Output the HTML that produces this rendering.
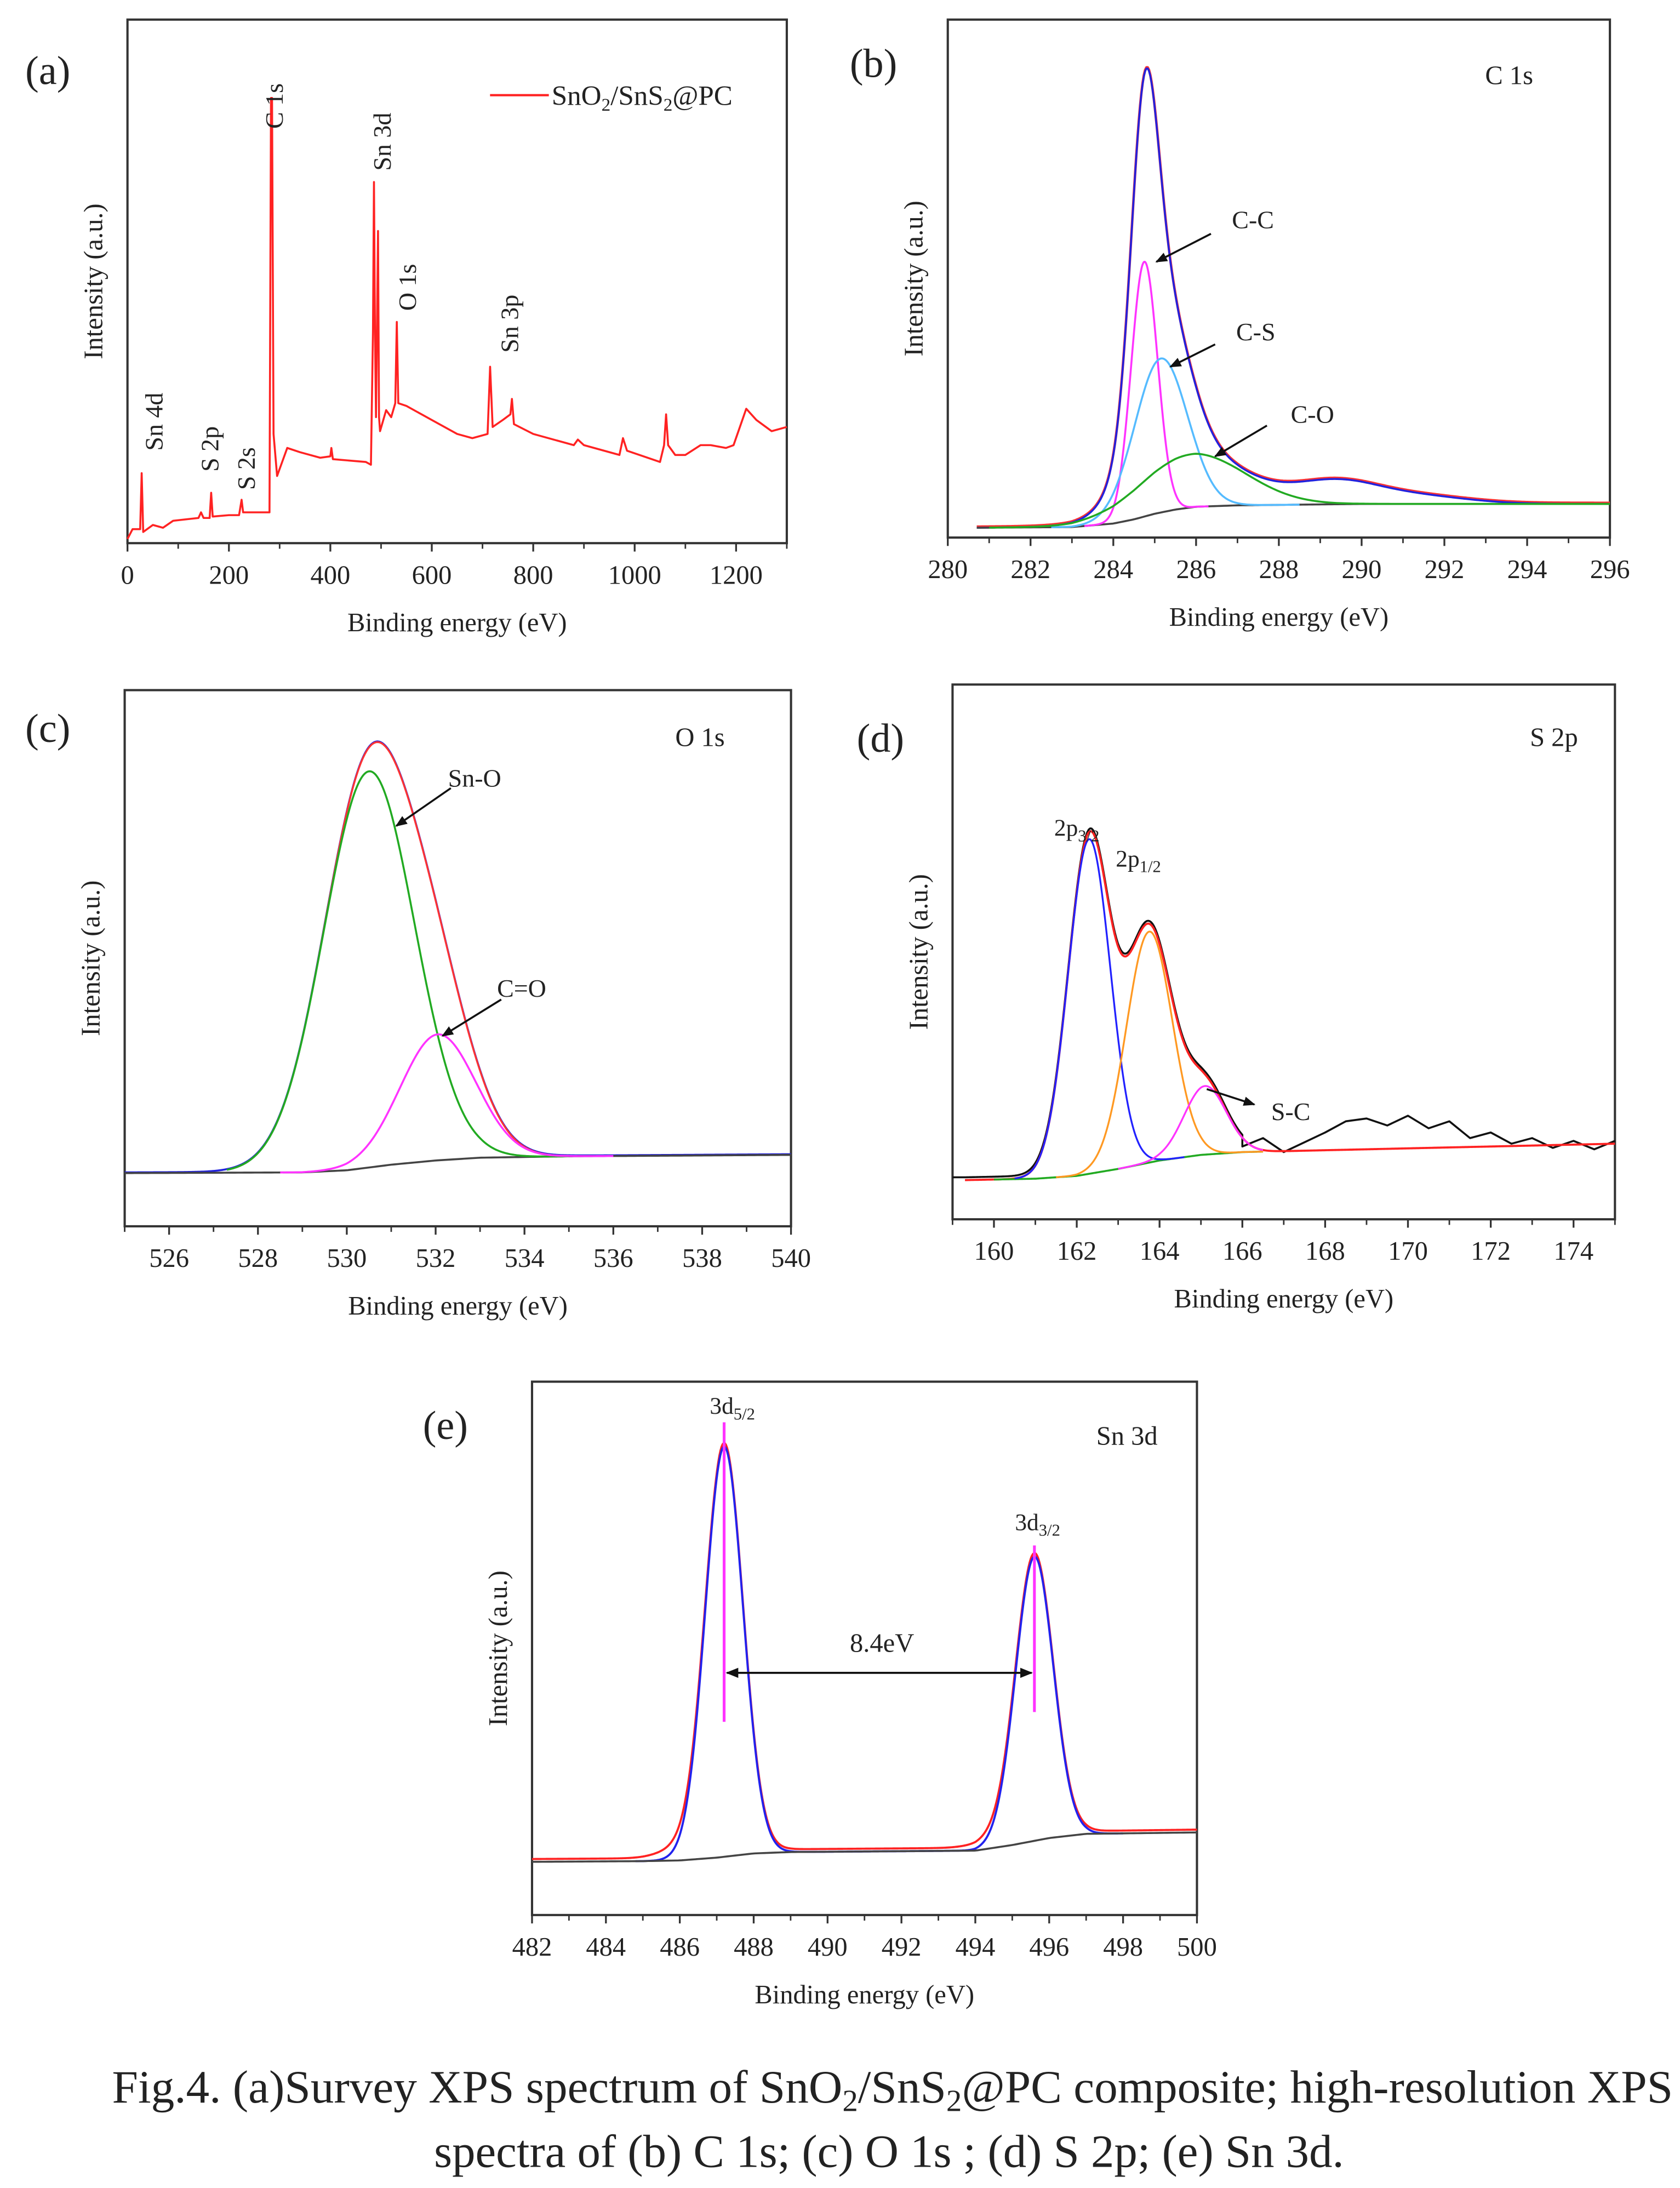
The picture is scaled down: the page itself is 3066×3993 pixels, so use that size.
<!DOCTYPE html>
<html><head><meta charset="utf-8"><style>
html,body{margin:0;padding:0;background:#fff}
svg{display:block}
text{font-family:"Liberation Serif",serif;fill:#222}
</style></head><body>
<svg id="fig" width="3066" height="3993" viewBox="0 0 1200 1563" xmlns="http://www.w3.org/2000/svg">
<defs>
<marker id="ah" viewBox="0 0 10 10" refX="9" refY="5" markerWidth="6" markerHeight="6" orient="auto-start-reverse"><path d="M0,1 L10,5 L0,9 z" fill="#111"/></marker>
</defs>
<text x="80" y="1502" font-size="33" textLength="1115" lengthAdjust="spacingAndGlyphs">Fig.4. (a)Survey XPS spectrum of SnO<tspan font-size="22" dy="6">2</tspan><tspan dy="-6">/SnS</tspan><tspan font-size="22" dy="6">2</tspan><tspan dy="-6">@PC composite; high-resolution XPS</tspan></text>
<text x="310" y="1548" font-size="33" textLength="650" lengthAdjust="spacingAndGlyphs">spectra of (b) C 1s; (c) O 1s ; (d) S 2p; (e) Sn 3d.</text>
</svg>
<script>
// ---------- DATA ----------
// (a) survey spectrum: binding energy (eV) and intensity (a.u.)
const surveyEV=[0,10,25,28,31,50,70,90,140,145,150,162,165,168,200,220,225,228,280,283,285,288,295,305,315,340,380,400,402,405,470,480,484,486,488,490,493,494,496,498,510,520,528,531,534,550,600,650,680,710,715,720,740,755,758,762,800,880,888,900,970,977,985,1050,1058,1062,1066,1080,1100,1130,1150,1180,1195,1220,1240,1270,1300];
const surveyI=[3,10,10,50,8,13,11,16,18,22,18,18,36,19,20,20,31,22,22,318,318,78,48,58,68,65,61,62,68,60,58,56,150,258,150,90,190,223,90,80,95,90,100,158,100,98,88,78,75,78,126,83,88,92,103,85,78,70,74,70,63,75,66,58,70,92,70,63,63,70,70,68,70,96,88,80,83];
const surveyTicks=[0,200,400,600,800,1000,1200];
// (b) C 1s components: center, amplitude, fwhm
const c1sNames=['C-C','C-S','C-O','main2','sat1','sat2'];
const c1sCenter=[284.75,285.15,285.9,284.95,289.3,291.2];
const c1sAmp=[182,110,38,20,15,6];
const c1sFwhm=[0.75,1.5,3.0,1.2,2.4,3.0];
const c1sBgEV=[280.7,283,284,284.5,285,285.5,286,287,290,296];
const c1sBgI=[7,7.5,10,13,17,20,22,23,24,24];
const c1sTicks=[280,282,284,286,288,290,292,294,296];
// (c) O 1s
const o1sCenter=[530.5,532.05];
const o1sAmp=[283,90];
const o1sFwhm=[2.4,2.0];
const o1sBgEV=[525,529,530,531,532,533,535,540];
const o1sBgI=[38,38.5,40,44,47,49,50,51];
const o1sTicks=[526,528,530,532,534,536,538,540];
// (d) S 2p
const s2pCenter=[162.3,163.75,165.1];
const s2pAmp=[239,165,49];
const s2pFwhm=[1.2,1.3,1.2];
const s2pBgEV=[159.3,161,162,163,164,165,166,175];
const s2pBgI=[28,29,31,36,42,46,48,54];
const s2pTailEV=[166,166.5,167,167.5,168,168.5,169,169.5,170,170.5,171,171.5,172,172.5,173,173.5,174,174.5,175];
const s2pTailI=[52,58,48,55,62,70,72,67,74,65,70,58,62,54,58,51,56,50,56];
const s2pTicks=[160,162,164,166,168,170,172,174];
// (e) Sn 3d
const sn3dCenter=[487.2,495.6];
const sn3dAmp=[293,203];
const sn3dFwhm=[1.2,1.2];
const sn3dBgEV=[482,485,486,487,488,489,494,495,496,497,500];
const sn3dBgI=[38,38.5,39,41,44,45,46,50,55,58,59];
const sn3dTicks=[482,484,486,488,490,492,494,496,498,500];

// ---------- HELPERS ----------
const NS='http://www.w3.org/2000/svg';
const svg=document.getElementById('fig');
function mk(tag,attrs,parent){const e=document.createElementNS(NS,tag);for(const k in attrs)e.setAttribute(k,attrs[k]);(parent||svg).appendChild(e);return e;}
function interp(xs,ys,x){if(x<=xs[0])return ys[0];for(let i=1;i<xs.length;i++){if(x<=xs[i]){const t=(x-xs[i-1])/(xs[i]-xs[i-1]);return ys[i-1]+t*(ys[i]-ys[i-1]);}}return ys[ys.length-1];}
function gauss(c,a,w,x){return a*Math.exp(-4*Math.LN2*((x-c)/w)**2);}
function sx(p,v){return p.x0+(v-p.xmin)/(p.xmax-p.xmin)*(p.x1-p.x0);}
function sy(p,v){return p.y1-v/(p.ymax)*(p.y1-p.y0);}
function pathFrom(p,xs,ys){let d='';for(let i=0;i<xs.length;i++){d+=(i?'L':'M')+sx(p,xs[i]).toFixed(2)+','+sy(p,ys[i]).toFixed(2);}return d;}
function sample(a,b,n,f){const xs=[],ys=[];for(let i=0;i<=n;i++){const x=a+(b-a)*i/n;xs.push(x);ys.push(f(x));}return [xs,ys];}
function drawCurve(p,xs,ys,color,name,w){const e=mk('path',{d:pathFrom(p,xs,ys),fill:'none',stroke:color,'stroke-width':w||1.4,'stroke-linejoin':'round'},p.g);


return e;}
function txt(p,x,y,s,size,extra){const t=mk('text',Object.assign({x:x,y:y,'font-size':size},extra||{}),p?p.g:svg);t.textContent=s;return t;}

function panel(p){
  p.g=mk('g',{});
  
  
  const f=mk('rect',{x:p.x0,y:p.y0,width:p.x1-p.x0,height:p.y1-p.y0,fill:'none',stroke:'#333','stroke-width':1.6},p.g);
  
  
  const step=p.ticks[1]-p.ticks[0];
  for(let i=0;i<p.ticks.length;i++){
    const v=p.ticks[i],x=sx(p,v);
    const tk=mk('line',{x1:x,x2:x,y1:p.y1,y2:p.y1+6,stroke:'#333','stroke-width':1.3},p.g);
    
    
    const lb=txt(p,x,p.y1+29,String(v),19,{'text-anchor':'middle'});
    
    
    const mv=v+step/2;
    if(mv<=p.xmax){const mx=sx(p,mv);const mt=mk('line',{x1:mx,x2:mx,y1:p.y1,y2:p.y1+4,stroke:'#333','stroke-width':1.1},p.g);
    
    }
    if(i===0){const mv2=v-step/2;if(mv2>=p.xmin){const mx=sx(p,mv2);mk('line',{x1:mx,x2:mx,y1:p.y1,y2:p.y1+4,stroke:'#333','stroke-width':1.1},p.g);}}
  }
  const xt=txt(p,(p.x0+p.x1)/2,p.y1+63,'Binding energy (eV)',19,{'text-anchor':'middle'});
  
  
  const yc=(p.y0+p.y1)/2, yx=p.x0-18;
  const yt=txt(p,yx,yc,'Intensity (a.u.)',19,{'text-anchor':'middle',transform:`rotate(-90 ${yx} ${yc})`});
  
  
  const pl=txt(p,p.lx,p.ly,p.letter,29,{});
  
  
  if(p.title){const tt=txt(p,p.tx,p.ty,p.title,19,{'text-anchor':'middle'});
  
  }
}
function arrow(p,x1,y1,x2,y2,name){const a=mk('line',{x1:x1,y1:y1,x2:x2,y2:y2,stroke:'#111','stroke-width':1.4,'marker-end':'url(#ah)'},p.g);

}

// ---------- PANEL A ----------
const pa={name:'panel-a-survey',x0:91,x1:562,y0:14,y1:388,xmin:0,xmax:1300,ymax:374,ticks:surveyTicks,letter:'(a)',lx:18,ly:60};
panel(pa);
drawCurve(pa,surveyEV,surveyI,'#f22','survey-spectrum-line',1.4);
const lg=mk('line',{x1:350,x2:392,y1:68,y2:68,stroke:'#f22','stroke-width':1.6},pa.g);


const lt=mk('text',{x:394,y:75,'font-size':20},pa.g);


lt.innerHTML='SnO<tspan font-size="13" dy="4">2</tspan><tspan dy="-4">/SnS</tspan><tspan font-size="13" dy="4">2</tspan><tspan dy="-4">@PC</tspan>';
const peakLabels=[['Sn 4d',116,322],['S 2p',156,337],['S 2s',182,350],['C 1s',202,92],['Sn 3d',279,122],['O 1s',297,222],['Sn 3p',370,252]];
peakLabels.forEach(l=>{const t=txt(pa,l[1],l[2],l[0],18,{transform:`rotate(-90 ${l[1]} ${l[2]})`});

});

// ---------- PANEL B ----------
const pb={name:'panel-b-c1s',x0:677,x1:1150,y0:14,y1:384,xmin:280,xmax:296,ymax:370,ticks:c1sTicks,letter:'(b)',lx:607,ly:55,title:'C 1s',tx:1078,ty:60};
panel(pb);
const bBg=x=>interp(c1sBgEV,c1sBgI,x);
const bEnv=x=>{let s=bBg(x);for(let i=0;i<c1sCenter.length;i++)s+=gauss(c1sCenter[i],c1sAmp[i],c1sFwhm[i],x);return s;};
let r=sample(280.7,296,500,x=>bEnv(x)+0.8);drawCurve(pb,r[0],r[1],'#f33','c1s-raw-data',1.8);
r=sample(280.7,296,500,bEnv);drawCurve(pb,r[0],r[1],'#22d','c1s-envelope',1.4);
r=sample(280.7,296,200,bBg);drawCurve(pb,r[0],r[1],'#444','c1s-background',1.4);
const bCol=['#f3f','#5bf','#2a2'];
const bRange=[[283.3,286.3],[282.5,288.5],[281,296]];
for(let i=0;i<3;i++){r=sample(bRange[i][0],bRange[i][1],300,x=>bBg(x)+gauss(c1sCenter[i],c1sAmp[i],c1sFwhm[i],x));drawCurve(pb,r[0],r[1],bCol[i],'c1s-component-'+c1sNames[i].toLowerCase(),1.4);}
[['C-C',880,163,865,167,826,187],['C-S',883,243,868,246,836,262],['C-O',922,302,905,304,868,326]].forEach(a=>{const t=txt(pb,a[1],a[2],a[0],18,{});


arrow(pb,a[3],a[4],a[5],a[6],'component-arrow');});

// ---------- PANEL C ----------
const pc={name:'panel-c-o1s',x0:89,x1:565,y0:493,y1:876,xmin:525,xmax:540,ymax:383,ticks:o1sTicks,letter:'(c)',lx:18,ly:530,title:'O 1s',tx:500,ty:533};
panel(pc);
const cBg=x=>interp(o1sBgEV,o1sBgI,x);
const cEnv=x=>{let s=cBg(x);for(let i=0;i<o1sCenter.length;i++)s+=gauss(o1sCenter[i],o1sAmp[i],o1sFwhm[i],x);return s;};
r=sample(525,540,500,x=>cEnv(x)+0.5);drawCurve(pc,r[0],r[1],'#22d','o1s-raw-data',1.4);
r=sample(527.5,535.5,300,cEnv);drawCurve(pc,r[0],r[1],'#f33','o1s-fit-envelope',1.3);
r=sample(525,540,200,cBg);drawCurve(pc,r[0],r[1],'#444','o1s-background',1.4);
r=sample(527.3,535,300,x=>cBg(x)+gauss(o1sCenter[0],o1sAmp[0],o1sFwhm[0],x));drawCurve(pc,r[0],r[1],'#2a2','o1s-component-sn-o',1.4);
r=sample(528.5,536,300,x=>cBg(x)+gauss(o1sCenter[1],o1sAmp[1],o1sFwhm[1],x));drawCurve(pc,r[0],r[1],'#f3f','o1s-component-c-o',1.4);
[['Sn-O',320,562,322,563,283,590],['C=O',355,712,358,714,316,740]].forEach(a=>{const t=txt(pc,a[1],a[2],a[0],18,{});


arrow(pc,a[3],a[4],a[5],a[6],'component-arrow');});

// ---------- PANEL D ----------
const pd={name:'panel-d-s2p',x0:680.4,x1:1153.6,y0:489,y1:871,xmin:159,xmax:175,ymax:382,ticks:s2pTicks,letter:'(d)',lx:612,ly:537,title:'S 2p',tx:1110,ty:533};
panel(pd);
const dBg=x=>interp(s2pBgEV,s2pBgI,x);
const dEnv=x=>{let s=dBg(x);for(let i=0;i<s2pCenter.length;i++)s+=gauss(s2pCenter[i],s2pAmp[i],s2pFwhm[i],x);return s;};
r=sample(159,166,200,x=>dEnv(x)+2);
const dX=r[0].concat(s2pTailEV), dY=r[1].concat(s2pTailI);
drawCurve(pd,dX,dY,'#111','s2p-raw-data',1.4);
r=sample(159.3,175,400,dEnv);drawCurve(pd,r[0],r[1],'#f22','s2p-fit-envelope',1.5);
r=sample(160,166.5,200,dBg);drawCurve(pd,r[0],r[1],'#2a2','s2p-background',1.4);
const dCol=['#22f','#f92','#f3f'],dName=['2p3-2','2p1-2','s-c'];
const dRange=[[160.5,164.6],[161.5,166.5],[163,166.5]];
for(let i=0;i<3;i++){r=sample(dRange[i][0],dRange[i][1],300,x=>dBg(x)+gauss(s2pCenter[i],s2pAmp[i],s2pFwhm[i],x));drawCurve(pd,r[0],r[1],dCol[i],'s2p-component-'+dName[i],1.3);}
let t1=mk('text',{x:753,y:597,'font-size':17},pd.g);t1.innerHTML='2p<tspan font-size="12" dy="4">3/2</tspan>';


let t2=mk('text',{x:797,y:619,'font-size':17},pd.g);t2.innerHTML='2p<tspan font-size="12" dy="4">1/2</tspan>';


const tsc=txt(pd,908,800,'S-C',18,{});


arrow(pd,862,778,896,789,'component-arrow');

// ---------- PANEL E ----------
const pe={name:'panel-e-sn3d',x0:380,x1:855,y0:987,y1:1368,xmin:482,xmax:500,ymax:381,ticks:sn3dTicks,letter:'(e)',lx:302,ly:1028,title:'Sn 3d',tx:805,ty:1032};
panel(pe);
const eBg=x=>interp(sn3dBgEV,sn3dBgI,x);
const eEnv=x=>{let s=eBg(x);for(let i=0;i<sn3dCenter.length;i++)s+=gauss(sn3dCenter[i],sn3dAmp[i],sn3dFwhm[i],x);return s;};
r=sample(482,500,600,x=>eEnv(x)+2+6*Math.exp(-(((x-486)/0.8)**2))+4*Math.exp(-(((x-494.5)/0.8)**2)));
drawCurve(pe,r[0],r[1],'#f22','sn3d-raw-data',1.5);
r=sample(484.8,498,500,eEnv);drawCurve(pe,r[0],r[1],'#22e','sn3d-fit-envelope',1.5);
r=sample(482,500,200,eBg);drawCurve(pe,r[0],r[1],'#444','sn3d-background',1.4);
const v1=sx(pe,sn3dCenter[0]),v2=sx(pe,sn3dCenter[1]);
let m1=mk('line',{x1:v1,x2:v1,y1:1016,y2:1230,stroke:'#f3f','stroke-width':2},pe.g);


let m2=mk('line',{x1:v2,x2:v2,y1:1104,y2:1223,stroke:'#f3f','stroke-width':2},pe.g);


const da=mk('line',{x1:v1+2,y1:1195,x2:v2-2,y2:1195,stroke:'#111','stroke-width':1.5,'marker-start':'url(#ah)','marker-end':'url(#ah)'},pe.g);


const sl=txt(pe,630,1180,'8.4eV',19,{'text-anchor':'middle'});


let t3=mk('text',{x:507,y:1010,'font-size':17},pe.g);t3.innerHTML='3d<tspan font-size="12" dy="4">5/2</tspan>';


let t4=mk('text',{x:725,y:1093,'font-size':17},pe.g);t4.innerHTML='3d<tspan font-size="12" dy="4">3/2</tspan>';


</script>
</body></html>
